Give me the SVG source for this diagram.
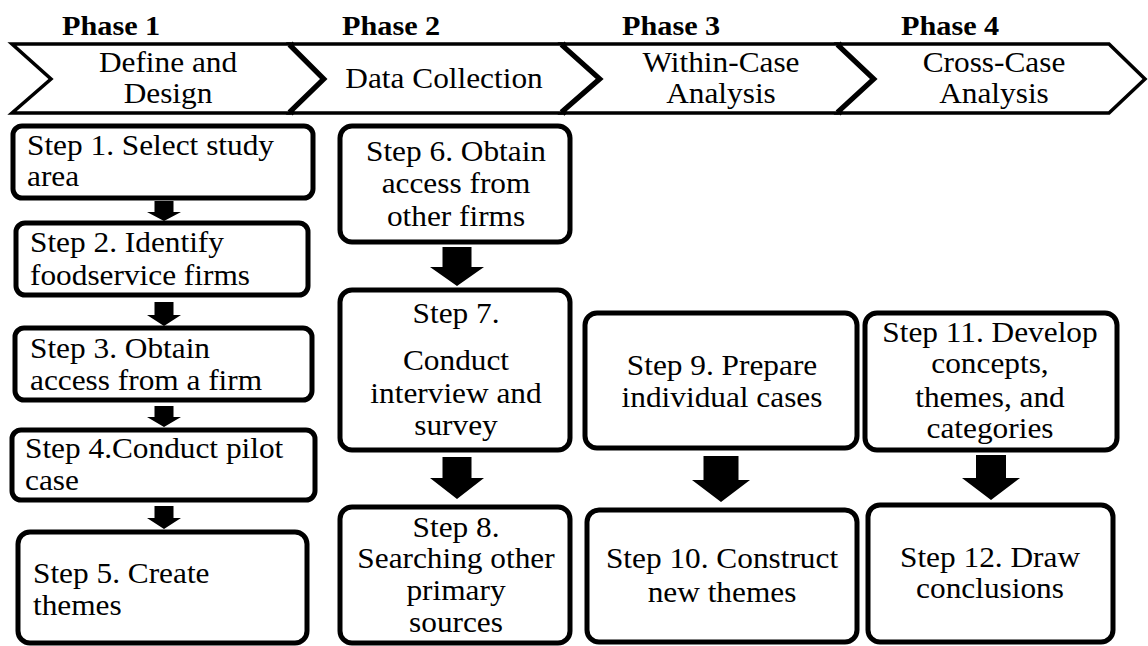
<svg xmlns="http://www.w3.org/2000/svg" width="1148" height="646" viewBox="0 0 1148 646">
<style>
.bg{fill:#fff}
.chev{fill:#fff;stroke:#000;stroke-width:3.5;stroke-linejoin:miter}
.joint{fill:none;stroke:#000;stroke-width:7;stroke-linejoin:miter}
.box{fill:#fff;stroke:#000;stroke-width:5}
.t{font-size:29px;fill:#000}
.c{text-anchor:middle}
.ph{font-size:28px;font-weight:bold;fill:#000}
.arr{fill:#000}
</style>
<rect class="bg" x="0" y="0" width="1148" height="646"/>

<g id="phase1">
  <polygon class="chev" points="12,44 290,44 325,79 290,113 12,113 51,79"/>
  <polyline class="joint" points="290,44 325,79 290,113"/>
  <g transform="translate(62 0) scale(1.08 1)"><text class="ph" x="0" y="35" font-family="Liberation Serif, serif">Phase 1</text></g>
  <g transform="translate(168 0) scale(1.08 1)"><text class="t c" font-family="Liberation Serif, serif"><tspan x="0" y="72">Define and</tspan><tspan x="0" y="103">Design</tspan></text></g>
</g>
<g id="phase2">
  <polygon class="chev" points="290,44 562,44 601,79 562,113 290,113 325,79"/>
  <polyline class="joint" points="562,44 601,79 562,113"/>
  <g transform="translate(342 0) scale(1.08 1)"><text class="ph" x="0" y="35" font-family="Liberation Serif, serif">Phase 2</text></g>
  <g transform="translate(444 0) scale(1.08 1)"><text class="t c" x="0" y="88" font-family="Liberation Serif, serif">Data Collection</text></g>
</g>
<g id="phase3">
  <polygon class="chev" points="562,44 838,44 875,79 838,113 562,113 601,79"/>
  <polyline class="joint" points="838,44 875,79 838,113"/>
  <g transform="translate(622 0) scale(1.08 1)"><text class="ph" x="0" y="35" font-family="Liberation Serif, serif">Phase 3</text></g>
  <g transform="translate(721 0) scale(1.08 1)"><text class="t c" font-family="Liberation Serif, serif"><tspan x="0" y="72">Within-Case</tspan><tspan x="0" y="103">Analysis</tspan></text></g>
</g>
<g id="phase4">
  <polygon class="chev" points="838,44 1109,44 1145,79 1109,113 838,113 875,79"/>
  <g transform="translate(901 0) scale(1.08 1)"><text class="ph" x="0" y="35" font-family="Liberation Serif, serif">Phase 4</text></g>
  <g transform="translate(994 0) scale(1.08 1)"><text class="t c" font-family="Liberation Serif, serif"><tspan x="0" y="72">Cross-Case</tspan><tspan x="0" y="103">Analysis</tspan></text></g>
</g>

<g id="step1">
  <rect class="box" x="13" y="126" width="300" height="72" rx="9"/>
  <g transform="translate(27 0) scale(1.08 1)"><text class="t" font-family="Liberation Serif, serif"><tspan x="0" y="155">Step 1. Select study</tspan><tspan x="0" y="186">area</tspan></text></g>
</g>
<g id="step2">
  <rect class="box" x="16" y="223" width="292" height="72" rx="9"/>
  <g transform="translate(30 0) scale(1.08 1)"><text class="t" font-family="Liberation Serif, serif"><tspan x="0" y="252">Step 2. Identify</tspan><tspan x="0" y="285">foodservice firms</tspan></text></g>
</g>
<g id="step3">
  <rect class="box" x="15" y="328" width="297" height="72" rx="9"/>
  <g transform="translate(30 0) scale(1.08 1)"><text class="t" font-family="Liberation Serif, serif"><tspan x="0" y="358">Step 3. Obtain</tspan><tspan x="0" y="390">access from a firm</tspan></text></g>
</g>
<g id="step4">
  <rect class="box" x="12" y="430" width="303" height="70" rx="9"/>
  <g transform="translate(25 0) scale(1.08 1)"><text class="t" font-family="Liberation Serif, serif"><tspan x="0" y="458">Step 4.Conduct pilot</tspan><tspan x="0" y="490">case</tspan></text></g>
</g>
<g id="step5">
  <rect class="box" x="18" y="532" width="289" height="111" rx="12"/>
  <g transform="translate(33 0) scale(1.08 1)"><text class="t" font-family="Liberation Serif, serif"><tspan x="0" y="583">Step 5. Create</tspan><tspan x="0" y="615">themes</tspan></text></g>
</g>

<g id="step6">
  <rect class="box" x="340" y="126" width="230" height="116" rx="12"/>
  <g transform="translate(456 0) scale(1.08 1)"><text class="t c" font-family="Liberation Serif, serif"><tspan x="0" y="161">Step 6. Obtain</tspan><tspan x="0" y="193">access from</tspan><tspan x="0" y="226">other firms</tspan></text></g>
</g>
<g id="step7">
  <rect class="box" x="340" y="290" width="230" height="160" rx="12"/>
  <g transform="translate(456 0) scale(1.08 1)"><text class="t c" font-family="Liberation Serif, serif"><tspan x="0" y="323">Step 7.</tspan><tspan x="0" y="370">Conduct</tspan><tspan x="0" y="403">interview and</tspan><tspan x="0" y="435">survey</tspan></text></g>
</g>
<g id="step8">
  <rect class="box" x="340" y="507" width="230" height="136" rx="12"/>
  <g transform="translate(456 0) scale(1.08 1)"><text class="t c" font-family="Liberation Serif, serif"><tspan x="0" y="537">Step 8.</tspan><tspan x="0" y="568">Searching other</tspan><tspan x="0" y="600">primary</tspan><tspan x="0" y="632">sources</tspan></text></g>
</g>

<g id="step9">
  <rect class="box" x="585" y="313" width="272" height="135" rx="12"/>
  <g transform="translate(722 0) scale(1.08 1)"><text class="t c" font-family="Liberation Serif, serif"><tspan x="0" y="375">Step 9. Prepare</tspan><tspan x="0" y="407">individual cases</tspan></text></g>
</g>
<g id="step10">
  <rect class="box" x="587" y="510" width="270" height="132" rx="12"/>
  <g transform="translate(722 0) scale(1.08 1)"><text class="t c" font-family="Liberation Serif, serif"><tspan x="0" y="568">Step 10. Construct</tspan><tspan x="0" y="602">new themes</tspan></text></g>
</g>

<g id="step11">
  <rect class="box" x="865" y="313" width="252" height="137" rx="12"/>
  <g transform="translate(990 0) scale(1.08 1)"><text class="t c" font-family="Liberation Serif, serif"><tspan x="0" y="342">Step 11. Develop</tspan><tspan x="0" y="373">concepts,</tspan><tspan x="0" y="407">themes, and</tspan><tspan x="0" y="438">categories</tspan></text></g>
</g>
<g id="step12">
  <rect class="box" x="868" y="505" width="245" height="137" rx="12"/>
  <g transform="translate(990 0) scale(1.08 1)"><text class="t c" font-family="Liberation Serif, serif"><tspan x="0" y="567">Step 12. Draw</tspan><tspan x="0" y="598">conclusions</tspan></text></g>
</g>

<g id="connectors">
  <path class="arr" d="M154.5,201 H173.5 V212 H181 L164,221 L147,212 H154.5 Z"/>
  <path class="arr" d="M154.5,302 H173.5 V315 H181 L164,326 L147,315 H154.5 Z"/>
  <path class="arr" d="M154.5,406 H173.5 V417 H181 L164,427 L147,417 H154.5 Z"/>
  <path class="arr" d="M154.5,506 H173.5 V518 H181 L164,529 L147,518 H154.5 Z"/>
  <path class="arr" d="M442.5,247 H471.5 V267 H484 L457,286 L430,267 H442.5 Z"/>
  <path class="arr" d="M442.5,457 H471.5 V478 H484 L457,499 L430,478 H442.5 Z"/>
  <path class="arr" d="M703.5,456 H738.5 V480 H750 L721,502 L692,480 H703.5 Z"/>
  <path class="arr" d="M976,455 H1006 V478 H1020 L991,500 L962,478 H976 Z"/>
</g>
</svg>
